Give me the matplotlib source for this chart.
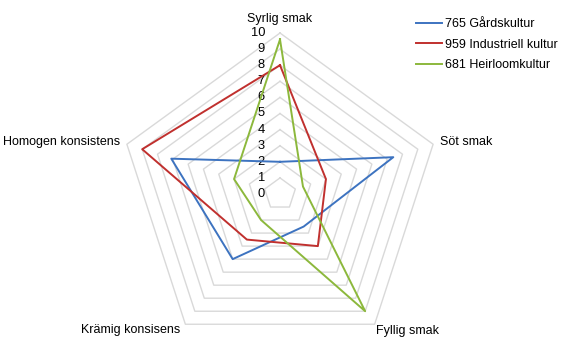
import numpy as np
import matplotlib
matplotlib.use('Agg')
import matplotlib.pyplot as plt

plt.rcParams['font.family'] = ['Liberation Sans', 'DejaVu Sans']

categories = ['Syrlig smak', 'Söt smak', 'Fyllig smak', 'Krämig konsisens', 'Homogen konsistens']
series_names = ['765 Gårdskultur', '959 Industriell kultur', '681 Heirloomkultur']
gards = [2.0, 7.4, 2.5, 5.0, 7.1]
industriell = [8.0, 3.0, 4.0, 3.5, 9.0]
heirloom = [9.6, 1.5, 9.0, 2.0, 3.0]
tick_values = list(range(0, 11))

colors = ['#3d73c0', '#c0302e', '#8cb83c']

W, H = 570, 351
CX, CY, UNIT = 280, 194, 16.1


def polar_xy(values):
    n = len(categories)
    ang = np.arange(n) * 2 * np.pi / n
    v = np.asarray(values, dtype=float)
    x = v * np.sin(ang)
    y = v * np.cos(ang)
    return np.append(x, x[0]), np.append(y, y[0])


def main():
    fig = plt.figure(figsize=(W / 100, H / 100), dpi=100)
    ax = fig.add_axes([0, 0, 1, 1])
    ax.set_xlim(-CX / UNIT, (W - CX) / UNIT)
    ax.set_ylim(-(H - CY) / UNIT, CY / UNIT)
    ax.axis('off')

    # pentagon grid
    for lvl in tick_values[1:]:
        gx, gy = polar_xy([lvl] * len(categories))
        ax.plot(gx, gy, color='#d9d9d9', lw=1.0, zorder=1)

    # value labels along the top axis
    for t in tick_values:
        ax.text(-15 / UNIT, t, str(t), ha='right', va='center', fontsize=9.3, color='#000000')

    # category labels
    n = len(categories)
    ang = np.arange(n) * 2 * np.pi / n
    offs = [(0, 14, 'center', 'center'), (7, 2, 'left', 'center'),
            (1, -7, 'left', 'center'), (-5, -6, 'right', 'center'),
            (-7, 2, 'right', 'center')]
    for i, cat in enumerate(categories):
        dx, dy, ha, va = offs[i]
        x = 10 * np.sin(ang[i]) + dx / UNIT
        y = 10 * np.cos(ang[i]) + dy / UNIT
        ax.text(x, y, cat, ha=ha, va=va, fontsize=9, color='#000000')

    for vals, name, c in zip([gards, industriell, heirloom], series_names, colors):
        x, y = polar_xy(vals)
        ax.plot(x, y, color=c, lw=1.4, label=name, zorder=3)

    ax.legend(loc='upper left', bbox_to_anchor=(416 / W, 1 - 18 / H),
              frameon=False, fontsize=9, handlelength=2.1, handletextpad=0.2,
              labelspacing=0.68, borderaxespad=0, borderpad=0)

    fig.savefig('out.png', dpi=100)


if __name__ == "__main__":
    main()
